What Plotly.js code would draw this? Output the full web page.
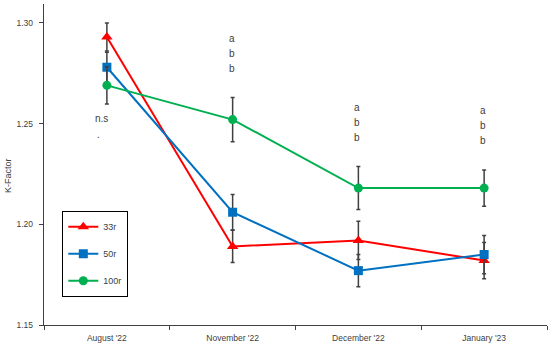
<!DOCTYPE html>
<html><head><meta charset="utf-8">
<script src="https://cdn.plot.ly/plotly-3.0.1.min.js"></script>
<style>html,body{margin:0;padding:0;background:#fff}#c{width:550px;height:347px}</style>
</head><body><div id="c"></div>
<script>
var months = ["August '22", "November '22", "December '22", "January '23"];
var r33 = [1.293, 1.189, 1.192, 1.182];
var r33err = [0.007, 0.008, 0.0095, 0.009];
var r50 = [1.278, 1.206, 1.177, 1.185];
var r50err = [0.0075, 0.0088, 0.008, 0.0095];
var r100 = [1.269, 1.252, 1.218, 1.218];
var r100err = [0.0092, 0.011, 0.0107, 0.009];
var sigLetters = [["n.s", "."], ["a", "b", "b"], ["a", "b", "b"], ["a", "b", "b"]];

var series = [
  {name: "33r", y: r33, e: r33err, color: "#FF0000", symbol: "triangle-up", size: 10},
  {name: "50r", y: r50, e: r50err, color: "#0070C0", symbol: "square", size: 9},
  {name: "100r", y: r100, e: r100err, color: "#00B050", symbol: "circle", size: 9}
];
var traces = series.map(function(s, i){
  return {
    type: "scatter", mode: "lines+markers", x: months, y: s.y, name: s.name,
    legendgroup: "g" + i,
    line: {color: s.color, width: 2},
    marker: {color: s.color, symbol: s.symbol, size: s.size},
    error_y: {type: "data", array: s.e, visible: true, color: "#404040", thickness: 1.5, width: 2}
  };
});

var annotations = [];
months.forEach(function(m, i){
  var tops = series.map(function(s){return s.y[i] + s.e[i];});
  var bots = series.map(function(s){return s.y[i] - s.e[i];});
  var top = Math.max.apply(null, tops), bot = Math.min.apply(null, bots);
  var L = sigLetters[i];
  if (i === 0) {
    L.forEach(function(t, k){
      annotations.push({x: m, y: bot, xref: "x", yref: "y", text: t, showarrow: false,
        yanchor: "middle", xshift: -5 - k*3, yshift: -15 - k*16,
        font: {family: "Liberation Sans, Arial", size: 10, color: "#404040"}});
    });
  } else {
    L.forEach(function(t, k){
      annotations.push({x: m, y: top, xref: "x", yref: "y", text: t, showarrow: false,
        yanchor: "middle", xshift: -1, yshift: 29 + (L.length - 1 - k) * 15,
        font: {family: "Liberation Sans, Arial", size: 10, color: "#404040"}});
    });
  }
});
annotations.push({xref: "paper", yref: "paper", x: -0.0716, y: 0.467, text: "K-Factor",
  textangle: -90, showarrow: false, xanchor: "center", yanchor: "middle",
  font: {family: "Liberation Sans, Arial", size: 9, color: "#404040"}});

var layout = {
  width: 550, height: 347,
  margin: {l: 44, r: 3, t: 4, b: 22},
  paper_bgcolor: "#fff", plot_bgcolor: "#fff",
  showlegend: true,
  legend: {x: 0.036, y: 0.355, xanchor: "left", yanchor: "top",
    bordercolor: "#000", borderwidth: 1.2, bgcolor: "#fff",
    traceorder: "grouped", tracegroupgap: 8, itemwidth: 30,
    font: {family: "Liberation Sans, Arial", size: 9, color: "#404040"}},
  xaxis: {type: "category", range: [-0.5, 3.5], showgrid: false, zeroline: false,
    showline: true, linecolor: "#404040", linewidth: 1.3,
    ticks: "outside", tickson: "boundaries", ticklen: 4, tickcolor: "#404040",
    ticklabelstandoff: 4,
    tickfont: {family: "Liberation Sans, Arial", size: 8.5, color: "#404040"}},
  yaxis: {range: [1.15, 1.3094], showgrid: false, zeroline: false,
    showline: true, linecolor: "#404040", linewidth: 1.3,
    tickvals: [1.15, 1.20, 1.25, 1.30], ticktext: ["1.15", "1.20", "1.25", "1.30"],
    ticks: "outside", ticklen: 4, tickcolor: "#404040",
    ticklabelstandoff: 4,
    tickfont: {family: "Liberation Sans, Arial", size: 8.5, color: "#404040"}},
  annotations: annotations
};
Plotly.newPlot("c", traces, layout, {staticPlot: true, displayModeBar: false});
</script></body></html>
